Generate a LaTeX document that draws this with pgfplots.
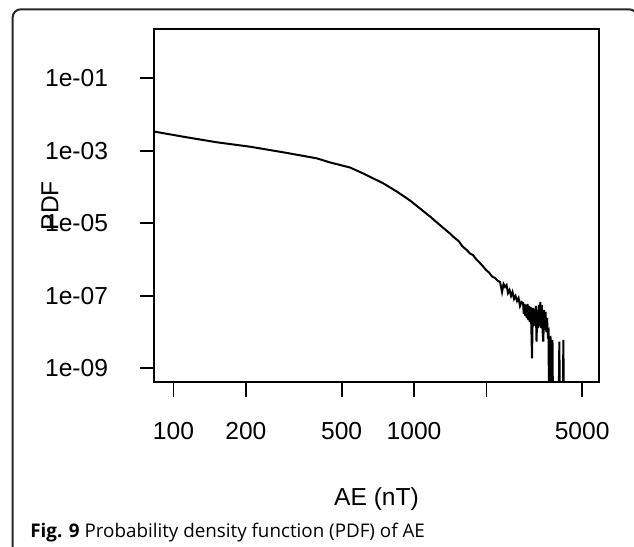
\documentclass[border=0pt]{standalone}
\usepackage{fontspec}
\setmainfont{Liberation Sans}
\newfontfamily\capfont{Open Sans}
\usepackage{pgfplots}
\pgfplotsset{compat=1.18}

\pgfplotstableread{
x y
83.8 3.34e-3
109.8 2.43e-3
151.2 1.71e-3
208.0 1.29e-3
286.1 9.03e-4
393.9 6.17e-4
447.5 4.75e-4
541.9 3.44e-4
615.5 2.35e-4
745.2 1.26e-4
847.6 7.5e-5
962.4 4.24e-5
1166 1.53e-5
1324 7.40e-6
1411 5.21e-6
1453 4.31e-6
1495 3.68e-6
1539 3.14e-6
1584 2.36e-6
1656 1.83e-6
1710 1.46e-6
1759 1.33e-6
1811 1.03e-6
1864 8.53e-7
1942 6.33e-7
1993 5.14e-7
2051 4.38e-7
2110 3.40e-7
2172 3.09e-7
2235 2.56e-7
2279 2.40e-7
2323 1.27e-7
2356 2.11e-7
2390 1.75e-7
2425 1.98e-7
2460 1.19e-7
2496 1.44e-7
2532 9.86e-8
2568 1.27e-7
2606 8.15e-8
2643 9.86e-8
2682 7.18e-8
2720 8.69e-8
2759 5.23e-8
2799 6.74e-8
2840 6.32e-8
2860 3.15e-8
2881 5.94e-8
2902 2.77e-8
2923 5.57e-8
2944 2.44e-8
2965 5.94e-8
2986 2.15e-8
3008 5.23e-8
3029 1.89e-8
3051 4.91e-8
3073 1.66e-8
3095 1.89e-9
3118 4.60e-8
3140 1.46e-8
3163 4.32e-8
3186 1.56e-8
3209 5.23e-8
3232 5.42e-9
3255 4.06e-8
3279 1.29e-8
3302 5.57e-8
3326 1.46e-8
3350 6.74e-8
3374 1.29e-8
3399 5.57e-8
3423 1.14e-8
3448 5.42e-9
3473 4.06e-8
3498 1.14e-8
3523 3.57e-8
3549 1.00e-8
3574 2.44e-8
3600 8.82e-9
3625 1.00e-8
3660 1e-12
3694 7.78e-9
3731 1e-12
3765 6.04e-9
3802 1e-12
3970 1e-12
4020 5.42e-9
4067 1e-12
4145 1e-12
4177 6.04e-9
4226 1e-12
}\pdfdata

\begin{document}
\begin{tikzpicture}[x=0.5pt,y=0.5pt]
\useasboundingbox (0,0) rectangle (634,547);
\begin{scope}
\clip (0,0) rectangle (634,547);
\draw[line width=1pt, black!85, rounded corners=4pt] (12.7,-10) -- (12.7,537.7) -- (637,537.7) -- (637,-10);
\end{scope}
\node[anchor=base west, inner sep=0pt, font=\capfont\fontsize{9.4}{11}\selectfont] at (30,9.7)
  {\textbf{Fig. 9} Probability density function (PDF) of AE};

\begin{axis}[
  at={(77pt,82.35pt)}, anchor=south west,
  scale only axis, width=222.5pt, height=176.5pt,
  xmode=log, ymode=log,
  xmin=82.97, xmax=5877, ymin=4.115e-10, ymax=2.225,
  axis line style={line width=0.9pt},
  every tick/.style={black, line width=0.9pt},
  tick align=outside, tick pos=left,
  major tick length=7.15pt,
  xminorticks=false, yminorticks=false,
  xtick={100,200,500,1000,2000,5000},
  xticklabels={100,200,500,1000,,5000},
  ytick={1e-9,1e-7,1e-5,1e-3,1e-1},
  yticklabels={1e-09,1e-07,1e-05,1e-03,1e-01},
  tick label style={font=\fontsize{12.3}{14}\selectfont, inner sep=0pt},
  yticklabel style={anchor=east, xshift=-15.65pt},
  xticklabel style={anchor=north, yshift=-12.85pt},
  label style={font=\fontsize{12.3}{14}\selectfont, inner sep=0pt},
  xlabel={AE (nT)},
  xlabel style={at={(axis description cs:0.5,0)}, anchor=base, yshift=-61.55pt},
  ylabel={PDF},
  ylabel style={at={(axis description cs:0,0.5)}, anchor=center, yshift=52pt},
]
\addplot[black, line width=1pt] table[x=x, y=y] {\pdfdata};
\end{axis}
\end{tikzpicture}
\end{document}
